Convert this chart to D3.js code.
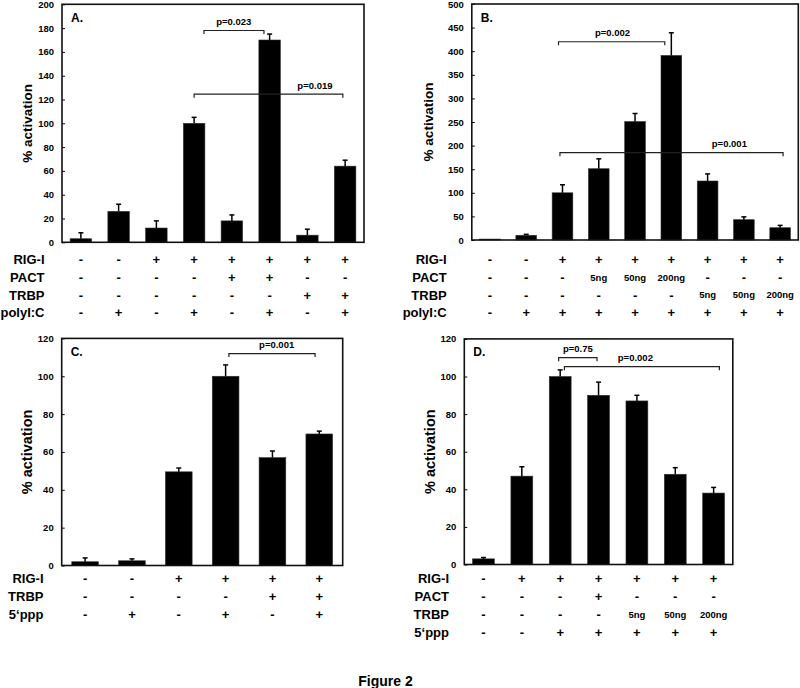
<!DOCTYPE html>
<html>
<head>
<meta charset="utf-8">
<script src="https://cdn.jsdelivr.net/npm/d3@7"></script>
<style>
  html, body { margin: 0; padding: 0; background: #fff; }
  svg text { font-family: "Liberation Sans", Arial, sans-serif; font-weight: bold; fill: #000; }
</style>
</head>
<body>
<svg id="chart" width="800" height="688"></svg>
<script>
// ---------------- DATA ----------------
// Panel A
const valuesA = [3, 26, 12, 100, 18, 170, 6, 64];
const errorsA = [5, 6, 6, 5, 5, 5, 5, 5];
const ticksA = [0, 20, 40, 60, 80, 100, 120, 140, 160, 180, 200];
const rowsA = ["RIG-I", "PACT", "TRBP", "polyI:C"];
const cellsA = [
  ["-", "-", "+", "+", "+", "+", "+", "+"],
  ["-", "-", "-", "-", "+", "+", "-", "-"],
  ["-", "-", "-", "-", "-", "-", "+", "+"],
  ["-", "+", "-", "+", "-", "+", "-", "+"]
];
const bracketsA = [
  { label: "p=0.023", from: 3.26, to: 4.85, level: 178, labelAt: 4.05 },
  { label: "p=0.019", from: 3.0, to: 6.94, level: 124.5, labelAt: 6.2 }
];

// Panel B
const valuesB = [2, 10, 100, 151, 251, 391, 125, 43, 26];
const errorsB = [0, 2, 17, 21, 17, 48, 15, 6, 5];
const ticksB = [0, 50, 100, 150, 200, 250, 300, 350, 400, 450, 500];
const rowsB = ["RIG-I", "PACT", "TRBP", "polyI:C"];
const cellsB = [
  ["-", "-", "+", "+", "+", "+", "+", "+", "+"],
  ["-", "-", "-", "5ng", "50ng", "200ng", "-", "-", "-"],
  ["-", "-", "-", "-", "-", "-", "5ng", "50ng", "200ng"],
  ["-", "+", "+", "+", "+", "+", "+", "+", "+"]
];
const bracketsB = [
  { label: "p=0.002", from: 1.89, to: 4.82, level: 420, labelAt: 3.38 },
  { label: "p=0.001", from: 1.93, to: 8.08, level: 185, labelAt: 6.6 }
];

// Panel C
const valuesC = [2, 2.5, 49.5, 100, 57, 69.5];
const errorsC = [2, 1, 2, 6, 3.5, 1.5];
const ticksC = [0, 20, 40, 60, 80, 100, 120];
const rowsC = ["RIG-I", "TRBP", "5‘ppp"];
const cellsC = [
  ["-", "-", "+", "+", "+", "+"],
  ["-", "-", "-", "-", "+", "+"],
  ["-", "+", "-", "+", "-", "+"]
];
const bracketsC = [
  { label: "p=0.001", from: 3.07, to: 4.91, level: 112, labelAt: 4.09 }
];

// Panel D
const valuesD = [3, 47, 100, 90, 87, 48, 38];
const errorsD = [0.7, 5, 3.5, 7, 3, 3.5, 3];
const ticksD = [0, 20, 40, 60, 80, 100, 120];
const rowsD = ["RIG-I", "PACT", "TRBP", "5‘ppp"];
const cellsD = [
  ["-", "+", "+", "+", "+", "+", "+"],
  ["-", "-", "-", "+", "-", "-", "-"],
  ["-", "-", "-", "-", "5ng", "50ng", "200ng"],
  ["-", "-", "+", "+", "+", "+", "+"]
];
const bracketsD = [
  { label: "p=0.75", from: 1.96, to: 2.96, level: 110, labelAt: 2.46 },
  { label: "p=0.002", from: 2.11, to: 6.15, level: 105.2, labelAt: 3.96 }
];

// ---------------- DRAW ----------------
const svg = d3.select("#chart");

function drawPanel(p) {
  const n = p.values.length;
  const x = d3.scaleBand().domain(d3.range(n)).range([p.x0, p.x1])
    .paddingInner(0.43).paddingOuter(0.215);
  const y = d3.scaleLinear().domain([0, p.ymax]).range([p.y0, p.y1]);
  // continuous position in category units (center of band i at i)
  const cx = v => x(0) + x.bandwidth() / 2 + v * x.step();

  const g = svg.append("g");

  // bars
  g.selectAll("rect.bar").data(p.values).join("rect")
    .attr("class", "bar")
    .attr("x", (d, i) => x(i))
    .attr("width", x.bandwidth())
    .attr("y", d => y(d))
    .attr("height", d => y(0) - y(d))
    .attr("fill", "#000")
    .attr("stroke", "#333").attr("stroke-width", 0.6);

  // error bars (upper only)
  const cap = 2.5;
  p.errors.forEach((e, i) => {
    if (!e) return;
    const xc = x(i) + x.bandwidth() / 2;
    g.append("line").attr("x1", xc).attr("x2", xc)
      .attr("y1", y(p.values[i])).attr("y2", y(p.values[i] + e))
      .attr("stroke", "#000").attr("stroke-width", 1.5);
    g.append("line").attr("x1", xc - cap).attr("x2", xc + cap)
      .attr("y1", y(p.values[i] + e)).attr("y2", y(p.values[i] + e))
      .attr("stroke", "#000").attr("stroke-width", 1.5);
  });

  // axis
  const ax = g.append("g").attr("transform", `translate(${p.x0},0)`)
    .call(d3.axisLeft(y).tickValues(p.ticks).tickSize(-3).tickPadding(8).tickSizeOuter(0));
  ax.select(".domain").remove();
  ax.selectAll(".tick line").attr("stroke", "#000").attr("stroke-width", 1);
  ax.selectAll(".tick text").style("font-size", "9.5px").attr("fill", "#000");

  // frame
  g.append("rect").attr("x", p.x0).attr("y", p.y1)
    .attr("width", p.x1 - p.x0).attr("height", p.y0 - p.y1)
    .attr("fill", "none").attr("stroke", "#111").attr("stroke-width", 1.6);

  // panel letter
  g.append("text").attr("x", p.x0 + 9).attr("y", p.y1 + 17.5)
    .style("font-size", "12px").text(p.letter);

  // y label
  g.append("text")
    .attr("transform", `translate(${p.ylabX},${(p.y0 + p.y1) / 2}) rotate(-90)`)
    .attr("text-anchor", "middle").attr("dy", "0.35em")
    .style("font-size", p.ylabSize + "px").text("% activation");

  // brackets
  p.brackets.forEach(b => {
    const yy = y(b.level);
    const xa = cx(b.from), xb = cx(b.to);
    g.append("path")
      .attr("d", `M${xa},${yy + 3.5}V${yy}H${xb}V${yy + 3.5}`)
      .attr("fill", "none").attr("stroke", "#222").attr("stroke-width", 1.2);
    g.append("text").attr("x", cx(b.labelAt)).attr("y", yy - 5.5)
      .attr("text-anchor", "middle").style("font-size", "9.5px").text(b.label);
  });

  // condition table
  p.rows.forEach((r, ri) => {
    const ty = p.tableY + ri * p.rowStep;
    g.append("text").attr("x", p.rowLabX).attr("y", ty).attr("dy", "0.35em")
      .attr("text-anchor", "end").style("font-size", "13px").text(r);
    p.cells[ri].forEach((c, ci) => {
      const isSym = (c === "+" || c === "-");
      g.append("text").attr("x", x(ci) + x.bandwidth() / 2).attr("y", ty)
        .attr("dy", "0.35em").attr("text-anchor", "middle")
        .style("font-size", isSym ? "13px" : "9.5px").text(c);
    });
  });
}

drawPanel({ values: valuesA, errors: errorsA, ticks: ticksA, ymax: 200, letter: "A.",
  x0: 62, x1: 364, y0: 242.3, y1: 4.3, ylabX: 27, ylabSize: 13.5,
  brackets: bracketsA, rows: rowsA, cells: cellsA, tableY: 259.5, rowStep: 17.8, rowLabX: 44.5 });

drawPanel({ values: valuesB, errors: errorsB, ticks: ticksB, ymax: 500, letter: "B.",
  x0: 471.8, x1: 798.3, y0: 240, y1: 4, ylabX: 428.3, ylabSize: 13.5,
  brackets: bracketsB, rows: rowsB, cells: cellsB, tableY: 259.5, rowStep: 17.8, rowLabX: 446.7 });

drawPanel({ values: valuesC, errors: errorsC, ticks: ticksC, ymax: 120, letter: "C.",
  x0: 61.7, x1: 342.7, y0: 565.5, y1: 338.4, ylabX: 27.3, ylabSize: 14.5,
  brackets: bracketsC, rows: rowsC, cells: cellsC, tableY: 578.3, rowStep: 17.9, rowLabX: 43.5 });

drawPanel({ values: valuesD, errors: errorsD, ticks: ticksD, ymax: 120, letter: "D.",
  x0: 464.3, x1: 732.8, y0: 564.5, y1: 338.9, ylabX: 430, ylabSize: 14.5,
  brackets: bracketsD, rows: rowsD, cells: cellsD, tableY: 578.3, rowStep: 18, rowLabX: 449 });

svg.append("text").attr("x", 385.5).attr("y", 685.5).attr("text-anchor", "middle")
  .style("font-size", "14px").text("Figure 2");
</script>
</body>
</html>
